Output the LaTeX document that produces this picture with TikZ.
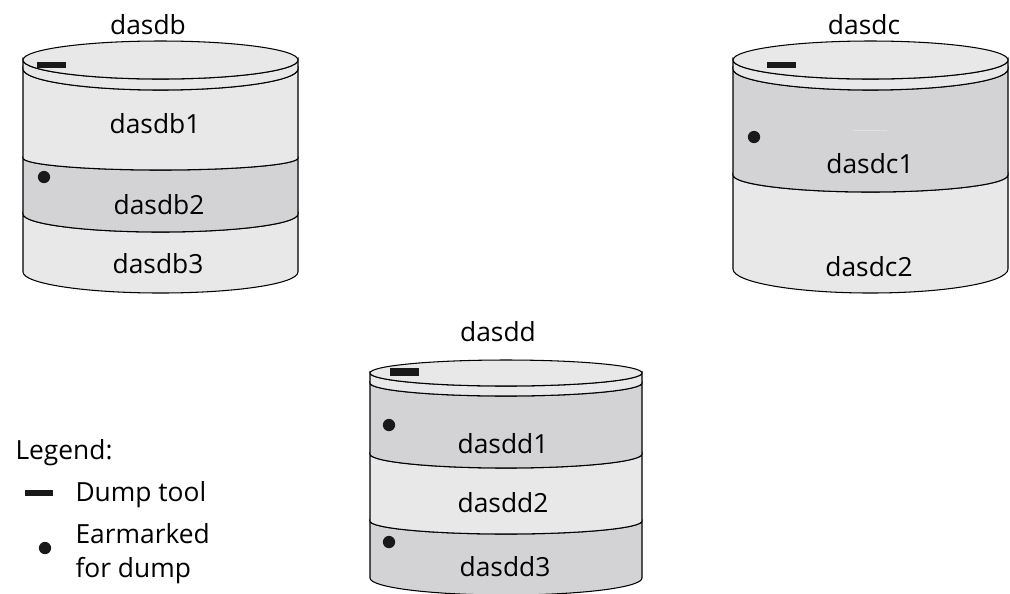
\documentclass[tikz,border=0pt]{standalone}
\usepackage{fontspec}
\setmainfont{Open Sans}
\definecolor{platter}{HTML}{E8E8E8}
\definecolor{marked}{HTML}{D3D3D5}
% one band of a disk: style, cx, rx, top y, top ry, bottom y, bottom ry
\newcommand{\diskband}[7]{%
  \filldraw[#1] (#2-#3,#4) arc[start angle=180,end angle=0,x radius=#3,y radius=#5]
    -- (#2+#3,#6) arc[start angle=0,end angle=180,x radius=#3,y radius=#7] -- cycle;}
\begin{document}
\begin{tikzpicture}[x=0.02cm,y=-0.02cm,line width=0.6pt,
    light/.style={fill=platter,draw=black},
    dark/.style={fill=marked,draw=black},
    label/.style={font=\fontsize{15}{18}\selectfont},
    dumpbar/.style={fill=black!90},
    earmark/.style={fill=black!90}]
\useasboundingbox (0,0) rectangle (1010,593);

% disk dasdb
\diskband{light}{160.5}{137.5}{214}{18}{272}{21}
\diskband{dark}{160.5}{137.5}{158}{12}{214}{18}
\diskband{light}{160.5}{137.5}{69}{21}{158}{12}
\diskband{light}{160.5}{137.5}{60}{19}{69}{21}
\filldraw[light] (160.5,60) ellipse[x radius=137.5,y radius=19];
\fill[dumpbar] (37,62) rectangle (66,68);
\fill[earmark] (44,177) circle[radius=3.5pt];
\node[label] (db) at (148,25) {dasdb};
\node[label] (db1) at (155,124) {dasdb1};
\node[label] (db2) at (159,205) {dasdb2};
\node[label] (db3) at (158,264) {dasdb3};

% disk dasdc
\diskband{light}{870.5}{137.5}{175}{17}{269}{24}
\diskband{dark}{870.5}{137.5}{69}{21}{175}{17}
\diskband{light}{870.5}{137.5}{60}{19}{69}{21}
\filldraw[light] (870.5,60) ellipse[x radius=137.5,y radius=19];
\draw[platter!60!marked,line width=0.5pt] (853,130) -- (887,130);
\fill[dumpbar] (767,62) rectangle (796,68);
\fill[earmark] (754,137) circle[radius=3.5pt];
\node[label] (dc) at (864,25) {dasdc};
\node[label] (dc1) at (870,164) {dasdc1};
\node[label] (dc2) at (869,267) {dasdc2};

% disk dasdd
\diskband{dark}{506}{136}{521}{13}{578}{17}
\diskband{light}{506}{136}{454}{14}{521}{13}
\diskband{dark}{506}{136}{383}{13}{454}{14}
\diskband{light}{506}{136}{373}{13}{383}{13}
\filldraw[light] (506,373) ellipse[x radius=136,y radius=13];
\fill[dumpbar] (390,368) rectangle (419,376);
\foreach \y in {425,542}
  \fill[earmark] (389,\y) circle[radius=3.5pt];
\node[label] (dd) at (498,332) {dasdd};
\node[label] (dd1) at (503,444) {dasdd1};
\node[label] (dd2) at (503,503) {dasdd2};
\node[label] (dd3) at (505,567) {dasdd3};

% legend
\node[label,anchor=base west,inner sep=0pt] (legend) at (15,459) {Legend:};
\fill[dumpbar] (25,490) rectangle (53,496);
\node[label,anchor=base west,inner sep=0pt] (dump) at (75,501) {Dump tool};
\fill[earmark] (45,548) circle[radius=3.5pt];
\node[label,anchor=base west,inner sep=0pt] (ear) at (75,543) {Earmarked};
\node[label,anchor=base west,inner sep=0pt] (ear2) at (75,577) {for dump};
\end{tikzpicture}
\end{document}
